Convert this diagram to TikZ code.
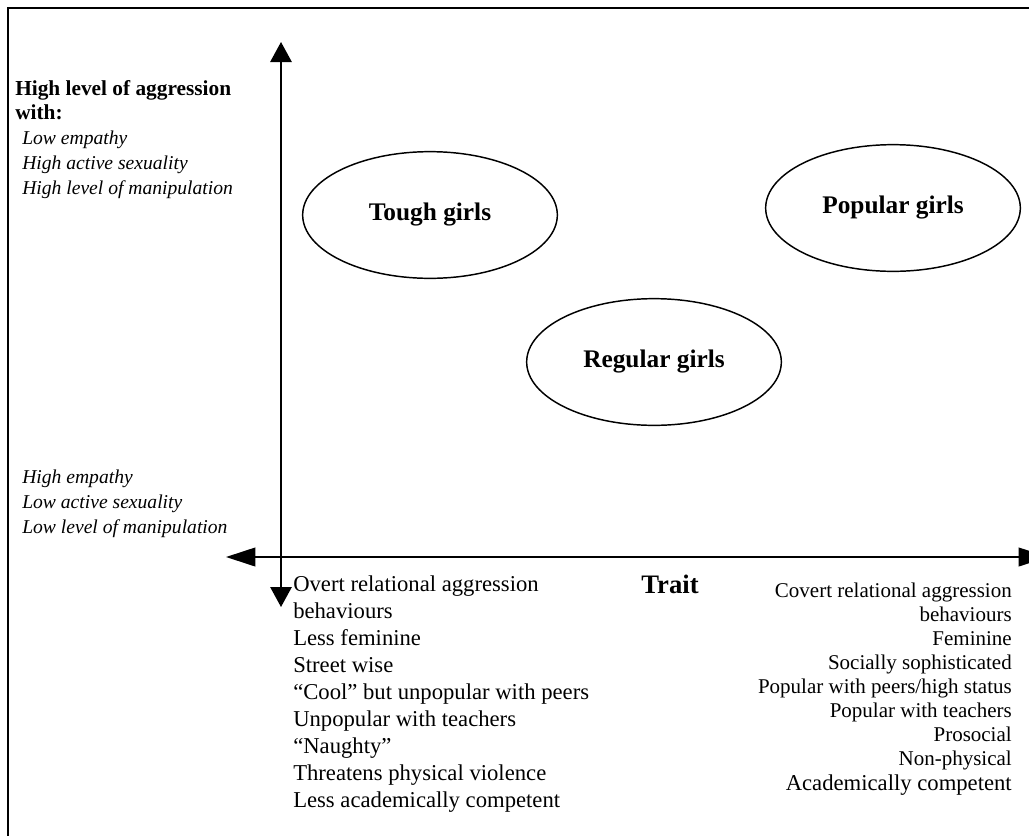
\documentclass[tikz,border=0pt]{standalone}
\usepackage{fontspec}
\setmainfont{Liberation Serif}
\usetikzlibrary{positioning,arrows.meta,shapes.geometric}
\tikzset{
  frame/.style   = {line width=2pt},
  haxis/.style   = {line width=1.4pt,
                    {Triangle[length=22pt,width=14pt]}-{Triangle[length=22pt,width=14pt]}},
  vaxis/.style   = {line width=1.4pt,
                    {Triangle[length=15pt,width=16pt]}-{Triangle[length=15pt,width=16pt]}},
  grp/.style     = {draw, ellipse, line width=1.1pt, minimum width=191pt,
                    minimum height=95pt, inner sep=0pt,
                    font=\fontsize{19}{22}\selectfont\bfseries},
  hdr/.style     = {anchor=base west, inner sep=0pt,
                    font=\fontsize{16}{18}\selectfont\bfseries},
  itl/.style     = {anchor=base west, inner sep=0pt,
                    font=\fontsize{14.7}{18.75}\selectfont\itshape},
  lcol/.style    = {anchor=base west, inner sep=0pt,
                    font=\fontsize{17}{20}\selectfont},
  rcol/.style    = {anchor=base east, inner sep=0pt,
                    font=\fontsize{15.75}{18}\selectfont},
}

\begin{document}
\begin{tikzpicture}[x=0.75pt,y=-0.75pt]
  \useasboundingbox (0,0) rectangle (1029,836);
  \draw[frame] (8,860) -- (8,8) -- (1060,8);
  % axes
  \coordinate (ytop) at (281,42);
  \coordinate (ybot) at (281,607);
  \coordinate (xleft) at (226,557);
  \coordinate (xright) at (1048,557);
  \draw[vaxis] (ybot) -- (ytop);
  \draw[haxis] (xleft) -- (xright);
  % groups
  \node[grp] (tough) at (430,215) {Tough girls};
  \node[grp] (popular) at (893,208) {Popular girls};
  \node[grp] (regular) at (654,362) {Regular girls};
  % vertical axis text
  \node[hdr] (aggr1) at (15,95) {High level of aggression};
  \node[hdr] (aggr2) at (15,119) {with:};
  \foreach \t [count=\i from 0] in {Low empathy, High active sexuality, High level of manipulation}
    \node[itl] (hi\i) at (22,144+25*\i) {\t};
  \foreach \t [count=\i from 0] in {High empathy, Low active sexuality, Low level of manipulation}
    \node[itl] (lo\i) at (22,483+25*\i) {\t};
  % horizontal axis text
  \node[font=\fontsize{20}{22}\selectfont\bfseries, inner sep=0pt] (trait) at (670,584) {Trait};
  \foreach \t [count=\i from 0] in {Overt relational aggression, behaviours, Less feminine,
      Street wise, ``Cool'' but unpopular with peers, Unpopular with teachers,
      ``Naughty'', Threatens physical violence, Less academically competent}
    \node[lcol] (ov\i) at (293,591+27*\i) {\t};
  \foreach \t [count=\i from 0] in {Covert relational aggression, behaviours, Feminine,
      Socially sophisticated, Popular with peers/high status, Popular with teachers,
      Prosocial, Non-physical}
    \node[rcol] (cv\i) at (1012,597+24*\i) {\t};
  \node[rcol, font=\fontsize{17}{20}\selectfont] (acad) at (1012,790) {Academically competent};
\end{tikzpicture}
\end{document}
